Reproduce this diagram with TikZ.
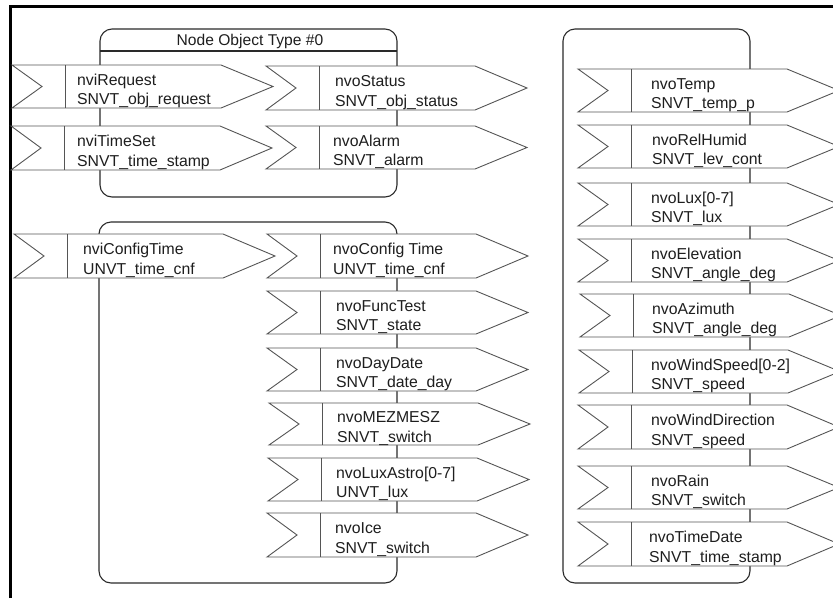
\documentclass[tikz,border=0pt]{standalone}
\usepackage{fontspec}
\setmainfont{Liberation Sans}

\definecolor{edgegray}{HTML}{555555}
\definecolor{boxline}{HTML}{2A2A2A}
\definecolor{inkcol}{HTML}{1E1E1E}

\tikzset{
  frameline/.style={line width=3pt, black, line join=miter},
  groupbox/.style={draw=boxline, line width=1.1pt, rounded corners=12pt},
  titlerule/.style={draw=boxline, line width=1.1pt},
  nvshape/.style={draw=edgegray, fill=white, line width=0.9pt, line join=miter},
  nvsep/.style={draw=edgegray, line width=0.9pt},
  nvtext/.style={anchor=west, inner sep=0pt, align=left, text=inkcol,
    font=\fontsize{15.8}{19.5}\selectfont},
  titletext/.style={inner sep=0pt, text=inkcol, font=\fontsize{15.6}{19}\selectfont},
}

% network variable flag: name, left x, top y, bottom y, text x, variable, type
\newcommand{\nvflag}[7]{%
  \pgfmathsetmacro{\nvmid}{(#3+#4)/2}%
  \filldraw[nvshape] (#2,#3) -- (#2+209,#3) -- (#2+261,\nvmid) -- (#2+209,#4)
    -- (#2,#4) -- (#2+30,\nvmid) -- cycle;
  \draw[nvsep] (#2+53,#3) -- (#2+53,#4);
  \node[nvtext] (#1) at (#5,\nvmid+4.5) {\strut #6\\\strut #7};
}

\begin{document}
\begin{tikzpicture}[x=1pt, y=-1pt]
  \useasboundingbox (0,0) rectangle (833,598);
  \clip (0,0) rectangle (833,598);

  % outer frame (top and left edges)
  \draw[frameline] (10,598) -- (10,6) -- (833,6);

  % functional blocks
  \draw[groupbox] (100,29) rectangle (397,197);
  \draw[titlerule] (100,51) -- (397,51);
  \node[titletext] (blocktitle) at (250,41) {Node Object Type \#0};
  \draw[groupbox] (99,222) rectangle (397,583);
  \draw[groupbox] (563,29) rectangle (750,583);

  % node object inputs and outputs
  \nvflag{nviRequest}{12}{65}{108}{77}{nviRequest}{SNVT\_obj\_request}
  \nvflag{nviTimeSet}{11}{126}{170}{77}{nviTimeSet}{SNVT\_time\_stamp}
  \nvflag{nvoStatus}{266}{66}{110}{335}{nvoStatus}{SNVT\_obj\_status}
  \nvflag{nvoAlarm}{266}{126}{169}{333}{nvoAlarm}{SNVT\_alarm}

  % real time clock block
  \nvflag{nviConfigTime}{14}{234}{278}{83}{nviConfigTime}{UNVT\_time\_cnf}
  \nvflag{nvoConfigTime}{267}{234}{278}{333}{nvoConfig Time}{UNVT\_time\_cnf}
  \nvflag{nvoFuncTest}{267}{291}{334}{336}{nvoFuncTest}{SNVT\_state}
  \nvflag{nvoDayDate}{267}{348}{391}{336}{nvoDayDate}{SNVT\_date\_day}
  \nvflag{nvoMEZMESZ}{269}{403}{445}{337}{nvoMEZMESZ}{SNVT\_switch}
  \nvflag{nvoLuxAstro}{268}{458}{501}{336}{nvoLuxAstro[0-7]}{UNVT\_lux}
  \nvflag{nvoIce}{267}{513}{557}{335}{nvoIce}{SNVT\_switch}

  % weather sensor block
  \nvflag{nvoTemp}{578}{69}{112}{651}{nvoTemp}{SNVT\_temp\_p}
  \nvflag{nvoRelHumid}{578}{125}{168}{652}{nvoRelHumid}{SNVT\_lev\_cont}
  \nvflag{nvoLux}{578}{183}{226}{651}{nvoLux[0-7]}{SNVT\_lux}
  \nvflag{nvoElevation}{578}{239}{282}{651}{nvoElevation}{SNVT\_angle\_deg}
  \nvflag{nvoAzimuth}{580}{294}{337}{652}{nvoAzimuth}{SNVT\_angle\_deg}
  \nvflag{nvoWindSpeed}{579}{350}{393}{651}{nvoWindSpeed[0-2]}{SNVT\_speed}
  \nvflag{nvoWindDirection}{578}{405}{449}{651}{nvoWindDirection}{SNVT\_speed}
  \nvflag{nvoRain}{578}{466}{509}{651}{nvoRain}{SNVT\_switch}
  \nvflag{nvoTimeDate}{578}{522}{566}{649}{nvoTimeDate}{SNVT\_time\_stamp}
\end{tikzpicture}
\end{document}
